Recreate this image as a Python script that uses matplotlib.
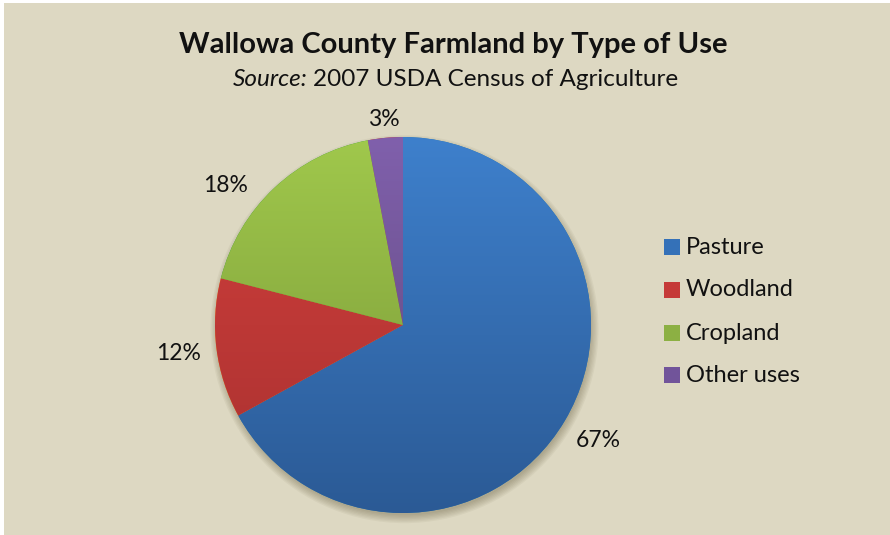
import numpy as np
import matplotlib
matplotlib.use("Agg")
import matplotlib.pyplot as plt
from matplotlib.colors import LinearSegmentedColormap
from matplotlib.patches import Rectangle, Circle

# Data
categories = ["Pasture", "Woodland", "Cropland", "Other uses"]
shares = [67, 12, 18, 3]
pct_labels = ["67%", "12%", "18%", "3%"]

# Colours (top, bottom) for the vertical gradient of each slice
top_colors = ["#3e80cc", "#d23f3c", "#a0c84c", "#8060ac"]
bottom_colors = ["#2b5a95", "#a83130", "#779536", "#5c4678"]
legend_colors = ["#3471b8", "#c53a38", "#8cb043", "#71549a"]
bg = "#ddd8c2"

plt.rcParams['font.family'] = ['Lato', 'DejaVu Sans']

W, H = 890, 535
fig = plt.figure(figsize=(W / 100, H / 100), dpi=100, facecolor="white")
# beige panel, small white strip on left and top
fig.patches.append(Rectangle((4 / W, 0), 1, 1 - 3 / H, transform=fig.transFigure,
                             facecolor=bg, edgecolor="none", zorder=-5))

# pie axes: centre (403, 325) px, radius 188 px
cx, cy, r = 403, 325, 188
ax = fig.add_axes([(cx - r) / W, (H - cy - r) / H, 2 * r / W, 2 * r / H])
ax.set_xlim(-1, 1)
ax.set_ylim(-1, 1)
ax.set_aspect("equal")
ax.axis("off")

# soft shadow, mostly below the pie
for k in range(7):
    ax.add_patch(Circle((0.008, -0.022), 0.99 + 0.007 * k, facecolor="#4a3f20",
                        alpha=0.05, edgecolor="none", zorder=0, clip_on=False))

wedges, texts = ax.pie(shares, startangle=90, counterclock=False, radius=1,
                       wedgeprops=dict(linewidth=0))

grad = np.linspace(0, 1, 256).reshape(-1, 1)
for w, c0, c1 in zip(wedges, top_colors, bottom_colors):
    cmap = LinearSegmentedColormap.from_list("g", [c0, c1])
    im = ax.imshow(grad, cmap=cmap, extent=(-1, 1, -1, 1), origin="upper",
                   aspect="auto", zorder=2)
    im.set_clip_path(w)
ax.set_xlim(-1, 1)
ax.set_ylim(-1, 1)

# percent labels ("best fit" placement: small slice pulled in, cropland nudged down)
for w, lab in zip(wedges, pct_labels):
    mid = (w.theta1 + w.theta2) / 2
    d = 1.205
    if lab == "3%":
        d = 1.1
    if lab == "18%":
        mid += 8.7
        d = 1.2
    ang = np.deg2rad(mid)
    ax.text(d * np.cos(ang), d * np.sin(ang), lab, ha="center", va="center",
            fontsize=16.5, color="#111111", zorder=5, clip_on=False)

# titles
fig.text(453 / W, 1 - 45 / H, "Wallowa County Farmland by Type of Use",
         ha="center", va="center", fontsize=21, fontweight="bold", color="#111111")
fig.text(308 / W, 1 - 80 / H, "Source:", ha="right", va="center", fontsize=17.5,
         fontstyle="italic", color="#111111")
fig.text(313 / W, 1 - 80 / H, "2007 USDA Census of Agriculture", ha="left",
         va="center", fontsize=17.5, color="#111111")

# legend
leg_y = [247, 290, 333, 375]
for name, col, y in zip(categories, legend_colors, leg_y):
    fig.patches.append(Rectangle((664 / W, 1 - (y + 8) / H), 16 / W, 16 / H,
                                 transform=fig.transFigure, facecolor=col,
                                 edgecolor="none", zorder=3))
    fig.text(686 / W, 1 - y / H, name, ha="left", va="center", fontsize=17,
             color="#111111")

fig.savefig("out.png", dpi=100, facecolor=fig.get_facecolor())
